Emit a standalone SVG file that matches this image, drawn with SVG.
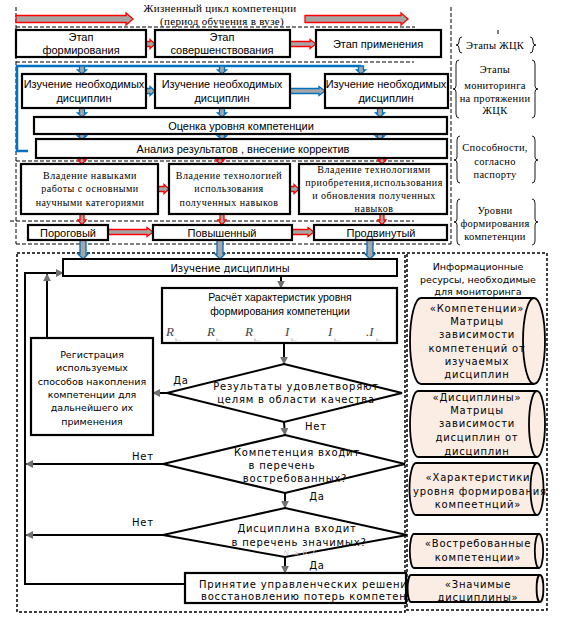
<svg xmlns="http://www.w3.org/2000/svg" width="562" height="621" viewBox="0 0 562 621">
<style>
.box{fill:#fff;stroke:#000;stroke-width:2.2}
.thin{fill:#fff;stroke:#000;stroke-width:2}
.dash{fill:none;stroke:#000;stroke-width:1;stroke-dasharray:4,2}
.dash2{fill:none;stroke:#000;stroke-width:1.5;stroke-dasharray:3,2}
.ra{fill:#a6a6a6;stroke:#f00;stroke-width:1.3}
.ba{fill:#a6a6a6;stroke:#0070c0;stroke-width:1.3}
.ln{fill:none;stroke:#000;stroke-width:2}
.brace{fill:none;stroke:#000;stroke-width:0.9}
.cyl{fill:#fbede4;stroke:#000;stroke-width:1.8}
.s11{font-family:"Liberation Sans",Arial,sans-serif;font-size:11px;text-anchor:middle}
.sf{font-family:"Liberation Serif","Times New Roman",serif;font-size:10px;letter-spacing:0.5px;text-anchor:middle}
.sr{font-family:"Liberation Serif","Times New Roman",serif;font-size:10.5px;letter-spacing:0.3px;text-anchor:middle}
.dv{font-family:"DejaVu Sans",sans-serif;font-size:9.5px;text-anchor:middle}
.dvs{font-family:"DejaVu Sans",sans-serif;font-size:10px;letter-spacing:0.8px;text-anchor:middle}
.dvl{font-family:"DejaVu Sans",sans-serif;font-size:10px;letter-spacing:0.8px}
.fm{font-family:"Liberation Serif",serif;font-size:13px;font-style:italic;fill:#444}
.sub{font-family:"Liberation Serif",serif;font-size:5px;fill:#999}
</style>
<defs>
<marker id="ah" viewBox="0 0 10 10" refX="9" refY="5" markerWidth="4" markerHeight="4" orient="auto" markerUnits="strokeWidth"><path d="M0,0 L10,5 L0,10 Z" fill="#707070"/></marker>
<clipPath id="clipP"><rect x="185" y="570" width="221" height="36"/></clipPath>
</defs>
<rect width="562" height="621" fill="#fff"/>

<g id="frames">
<path class="dash" d="M16,7 V244 M451,7 V244 M16,27 H415 M16,62 H414 M16,161 H414 M10,221 H414 M16,244 H451 M498,30 V36"/>
<rect class="dash2" x="17" y="253" width="388" height="359"/>
<rect class="dash2" x="407" y="253" width="140" height="357"/>
</g>

<g id="title">
<text class="sr" x="220" y="12" style="font-size:11px">Жизненный цикл компетенции</text>
<text class="sr" x="222" y="25" style="font-size:11px">(период обучения в вузе)</text>
</g>

<g id="connectors">
<path class="ra" d="M16,15.5 L126,15.5 L126,13 L133,19 L126,25 L126,22.5 L16,22.5 Z"/>
<path class="ra" d="M305,15.5 L401,15.5 L401,13 L408,19 L401,25 L401,22.5 L305,22.5 Z"/>
<path class="ra" d="M146,41.5 L150,41.5 L150,39.5 L155,44 L150,48.5 L150,46.5 L146,46.5 Z"/>
<path class="ra" d="M290,41.5 L310,41.5 L310,39.5 L316,44 L310,48.5 L310,46.5 L290,46.5 Z"/>
<polyline points="361,66 17,66 17,151 28,151" fill="none" stroke="#0070c0" stroke-width="2.5"/>
<path class="ba" d="M79.5,66 L84.5,66 L84.5,70 L86.5,70 L82,74 L77.5,70 L79.5,70 Z"/>
<path class="ba" d="M219.5,66 L224.5,66 L224.5,70 L226.5,70 L222,74 L217.5,70 L219.5,70 Z"/>
<path class="ba" d="M358.5,66 L363.5,66 L363.5,70 L365.5,70 L361,74 L356.5,70 L358.5,70 Z"/>
<path class="ba" d="M146,88.5 L150,88.5 L150,86.5 L155,91 L150,95.5 L150,93.5 L146,93.5 Z"/>
<path class="ba" d="M290,88.5 L319,88.5 L319,86.5 L325,91 L319,95.5 L319,93.5 L290,93.5 Z"/>
<path class="ba" d="M79.5,108 L84.5,108 L84.5,113 L86.5,113 L82,117 L77.5,113 L79.5,113 Z"/>
<path class="ba" d="M219.5,108 L224.5,108 L224.5,113 L226.5,113 L222,117 L217.5,113 L219.5,113 Z"/>
<path class="ba" d="M377.5,108 L382.5,108 L382.5,113 L384.5,113 L380,117 L375.5,113 L377.5,113 Z"/>
<path class="ba" d="M79.5,134 L84.5,134 L84.5,136 L86.5,136 L82,139.5 L77.5,136 L79.5,136 Z"/>
<path class="ba" d="M219.5,134 L224.5,134 L224.5,136 L226.5,136 L222,139.5 L217.5,136 L219.5,136 Z"/>
<path class="ba" d="M377.5,134 L382.5,134 L382.5,136 L384.5,136 L380,139.5 L375.5,136 L377.5,136 Z"/>
<path class="ra" d="M80,158 L84,158 L84,160 L86,160 L82,164 L78,160 L80,160 Z"/>
<path class="ra" d="M218,158 L222,158 L222,160 L224,160 L220,164 L216,160 L218,160 Z"/>
<path class="ra" d="M380,158 L384,158 L384,160 L386,160 L382,164 L378,160 L380,160 Z"/>
<path class="ra" d="M158,186.5 L164,186.5 L164,184.5 L169,189 L164,193.5 L164,191.5 L158,191.5 Z"/>
<path class="ra" d="M290,186.5 L294,186.5 L294,184.5 L299,189 L294,193.5 L294,191.5 L290,191.5 Z"/>
<path class="ra" d="M80,214 L84,214 L84,220 L86,220 L82,225 L78,220 L80,220 Z"/>
<path class="ra" d="M220,214 L224,214 L224,220 L226,220 L222,225 L218,220 L220,220 Z"/>
<path class="ra" d="M380,214 L384,214 L384,220 L386,220 L382,225 L378,220 L380,220 Z"/>
<path class="ra" d="M108,229.5 L147,229.5 L147,227.5 L153,232 L147,236.5 L147,234.5 L108,234.5 Z"/>
<path class="ra" d="M292,229.5 L308,229.5 L308,227.5 L314,232 L308,236.5 L308,234.5 L292,234.5 Z"/>
<path class="ba" d="M80,240 L86,240 L86,254 L88,254 L83,259 L78,254 L80,254 Z"/>
<path class="ba" d="M217,240 L223,240 L223,254 L225,254 L220,259 L215,254 L217,254 Z"/>
<path class="ba" d="M367,240 L373,240 L373,254 L375,254 L370,259 L365,254 L367,254 Z"/>
<line class="ln" x1="281" y1="276" x2="281" y2="288" marker-end="url(#ah)"/>
<line class="ln" x1="284" y1="343" x2="284" y2="364" marker-end="url(#ah)"/>
<line class="ln" x1="167" y1="393" x2="153" y2="393" marker-end="url(#ah)"/>
<line class="ln" x1="284" y1="422" x2="285" y2="435" marker-end="url(#ah)"/>
<line class="ln" x1="163" y1="464" x2="26" y2="464" marker-end="url(#ah)"/>
<line class="ln" x1="285" y1="493" x2="285" y2="508" marker-end="url(#ah)"/>
<line class="ln" x1="163" y1="535" x2="26" y2="535" marker-end="url(#ah)"/>
<line class="ln" x1="285" y1="557" x2="285" y2="573" marker-end="url(#ah)"/>
<polyline class="ln" points="185,584 25,584 25,273 63,273" marker-end="url(#ah)"/>
<line class="ln" x1="47" y1="338" x2="47" y2="274" marker-end="url(#ah)"/>
<text class="dvs" x="181" y="384">Да</text>
<text class="dvs" x="316" y="430">Нет</text>
<text class="dvs" x="143" y="460">Нет</text>
<text class="dvs" x="317" y="500">Да</text>
<text class="dvs" x="143" y="526">Нет</text>
<text class="dvs" x="317" y="569">Да</text>
</g>

<g id="stage1"><rect class="box" x="16" y="30" width="130" height="27"/><text class="s11" x="81" y="41">Этап</text><text class="s11" x="81" y="54">формирования</text></g>
<g id="stage2"><rect class="box" x="155" y="30" width="135" height="27"/><text class="s11" x="222" y="41">Этап</text><text class="s11" x="222" y="54">совершенствования</text></g>
<g id="stage3"><rect class="box" x="316" y="30" width="125" height="27"/><text class="s11" x="378" y="48">Этап применения</text></g>

<g id="study1"><rect class="box" x="22" y="74" width="124" height="34"/><text class="s11" x="84" y="88">Изучение необходимых</text><text class="s11" x="84" y="102">дисциплин</text></g>
<g id="study2"><rect class="box" x="155" y="74" width="135" height="34"/><text class="s11" x="222" y="88">Изучение необходимых</text><text class="s11" x="222" y="102">дисциплин</text></g>
<g id="study3"><rect class="box" x="325" y="74" width="123" height="34"/><text class="s11" x="386" y="88">Изучение необходимых</text><text class="s11" x="386" y="102">дисциплин</text></g>

<g id="assess"><rect class="box" x="34" y="117" width="413" height="17"/><text class="s11" x="241" y="129.5">Оценка уровня компетенции</text></g>
<g id="analysis"><rect class="box" x="36" y="139" width="411" height="19"/><text class="s11" x="243" y="152.5">Анализ результатов  , внесение корректив</text></g>

<g id="skill1"><rect class="box" x="21" y="164" width="137" height="50"/><text class="sf" x="90" y="179">Владение навыками</text><text class="sf" x="90" y="192">работы с основными</text><text class="sf" x="90" y="206">научными категориями</text></g>
<g id="skill2"><rect class="box" x="169" y="164" width="121" height="50"/><text class="sf" x="229" y="179">Владение технологией</text><text class="sf" x="229" y="192">использования</text><text class="sf" x="229" y="206">полученных навыков</text></g>
<g id="skill3"><rect class="box" x="299" y="164" width="148" height="50"/><text class="sf" x="374" y="173">Владение технологиями</text><text class="sf" x="374" y="186">приобретения,использования</text><text class="sf" x="374" y="199">и обновления полученных</text><text class="sf" x="374" y="212">навыков</text></g>

<g id="level1"><rect class="box" x="28" y="225" width="80" height="15"/><text class="s11" x="68" y="236.5">Пороговый</text></g>
<g id="level2"><rect class="box" x="153" y="225" width="139" height="15"/><text class="s11" x="222" y="236.5">Повышенный</text></g>
<g id="level3"><rect class="box" x="314" y="225" width="133" height="15"/><text class="s11" x="381" y="236.5">Продвинутый</text></g>

<g id="labels">
<path class="brace" d="M462,37 Q459,37 459,41 L459,42 Q459,45 456,45 Q459,45 459,48 L459,49 Q459,53 462,53"/>
<path class="brace" d="M530,37 Q533,37 533,41 L533,42 Q533,45 536,45 Q533,45 533,48 L533,49 Q533,53 530,53"/>
<text class="sr" x="495" y="49">Этапы ЖЦК</text>
<path class="brace" d="M459,60 Q456,60 456,64 L456,86 Q456,89 453,89 Q456,89 456,92 L456,114 Q456,118 459,118"/>
<path class="brace" d="M532,60 Q535,60 535,64 L535,86 Q535,89 538,89 Q535,89 535,92 L535,114 Q535,118 532,118"/>
<text class="sr" x="495" y="73">Этапы</text><text class="sr" x="495" y="89">мониторинга</text><text class="sr" x="495" y="102">на протяжении</text><text class="sr" x="495" y="114">ЖЦК</text>
<path class="brace" d="M460,136 Q457,136 457,140 L457,157 Q457,160 454,160 Q457,160 457,163 L457,179 Q457,183 460,183"/>
<path class="brace" d="M532,136 Q535,136 535,140 L535,157 Q535,160 538,160 Q535,160 535,163 L535,179 Q535,183 532,183"/>
<text class="sr" x="495" y="151">Способности,</text><text class="sr" x="495" y="165">согласно</text><text class="sr" x="495" y="178">паспорту</text>
<path class="brace" d="M460,199 Q457,199 457,203 L457,219 Q457,222 454,222 Q457,222 457,225 L457,241 Q457,245 460,245"/>
<path class="brace" d="M532,199 Q535,199 535,203 L535,219 Q535,222 538,222 Q535,222 535,225 L535,241 Q535,245 532,245"/>
<text class="sr" x="495" y="214">Уровни</text><text class="sr" x="495" y="227">формирования</text><text class="sr" x="495" y="240">компетенции</text>
</g>

<g id="study-discipline"><rect class="thin" x="63" y="259" width="334" height="17"/><text class="dv" x="230" y="271.5" style="font-size:10px">Изучение дисциплины</text></g>

<g id="calc">
<rect class="box" x="162" y="288" width="235" height="55"/>
<text class="s11" x="280" y="301" style="font-size:10.5px">Расчёт характеристик уровня</text>
<text class="s11" x="280" y="315" style="font-size:10.5px">формирования компетенции</text>
<text class="fm" x="166" y="336">R</text><text class="sub" x="175" y="341">k...</text>
<text class="fm" x="207" y="336">R</text><text class="sub" x="216" y="341">k...</text>
<text class="fm" x="245" y="336">R</text><text class="sub" x="254" y="341">k...</text>
<text class="fm" x="285" y="336">I</text><text class="sub" x="291" y="341">k...</text>
<text class="fm" x="328" y="336">I</text><text class="sub" x="334" y="341">k...</text>
<text class="fm" x="366" y="336">.I</text><text class="sub" x="376" y="341">k...</text>
</g>

<g id="decision1">
<polygon class="thin" points="284,364 402,393 284,422 167,393"/>
<text class="dvs" x="296" y="390">Результаты удовлетворяют</text>
<text class="dvs" x="296" y="403">целям в области качества</text>
</g>

<g id="register">
<rect class="box" x="31" y="338" width="122" height="97"/>
<text class="dv" x="92" y="358">Регистрация</text>
<text class="dv" x="92" y="371">используемых</text>
<text class="dv" x="92" y="385">способов накопления</text>
<text class="dv" x="92" y="398">компетенции для</text>
<text class="dv" x="92" y="411">дальнейшего их</text>
<text class="dv" x="92" y="425">применения</text>
</g>

<g id="decision2">
<polygon class="thin" points="285,435 405,464 285,493 163,464"/>
<text class="dvs" x="297" y="456">Компетенция входит</text>
<text class="dvs" x="282" y="469">в перечень</text>
<text class="dvs" x="295" y="482">востребованных?</text>
</g>

<g id="decision3">
<polygon class="thin" points="285,508 407,535 285,557 163,535"/>
<text class="dvs" x="297" y="532">Дисциплина входит</text>
<text class="dvs" x="299" y="546">в перечень значимых?</text>
<text class="dvs" x="300" y="555" style="fill:#ccc;font-size:7px">N ≥ 0,7</text>
</g>

<g id="decision-box">
<rect class="box" x="185" y="573" width="221" height="30"/>
<text class="dvl" x="199" y="588">Принятие управленческих решений</text>
<text class="dvl" x="201" y="600" clip-path="url(#clipP)">восстановлению потерь компетенций</text>
</g>

<g id="resources">
<text class="dv" x="478" y="270">Информационные</text>
<text class="dv" x="478" y="283">ресурсы, необходимые</text>
<text class="dv" x="478" y="295">для мониторинга</text>
</g>

<g id="res1">
<path class="cyl" d="M421,298 L534,298 A11,43 0 0 1 534,384 L421,384 A11,43 0 0 1 421,298 Z"/>
<path class="cyl" d="M534,298 A11,43 0 0 0 534,384" style="fill:none"/>
<text class="dvs" x="477" y="312">«Компетенции»</text><text class="dvs" x="477" y="325">Матрицы</text><text class="dvs" x="477" y="338">зависимости</text><text class="dvs" x="477" y="352">компетенций от</text><text class="dvs" x="477" y="365">изучаемых</text><text class="dvs" x="477" y="378">дисциплин</text>
</g>
<g id="res2">
<path class="cyl" d="M418,391 L537,391 A8,33 0 0 1 537,457 L418,457 A8,33 0 0 1 418,391 Z"/>
<path class="cyl" d="M537,391 A8,33 0 0 0 537,457" style="fill:none"/>
<text class="dvs" x="477" y="401">«Дисциплины»</text><text class="dvs" x="477" y="414">Матрицы</text><text class="dvs" x="477" y="427">зависимости</text><text class="dvs" x="477" y="441">дисциплин от</text><text class="dvs" x="477" y="455">дисциплин</text>
</g>
<g id="res3">
<path class="cyl" d="M416,463 L537,463 A6.5,26 0 0 1 537,515 L416,515 A6.5,26 0 0 1 416,463 Z"/>
<path class="cyl" d="M537,463 A6.5,26 0 0 0 537,515" style="fill:none"/>
<text class="dvs" x="478" y="481">«Характеристики</text><text class="dvs" x="480" y="495">уровня формирования</text><text class="dvs" x="478" y="508">компеетнций»</text>
</g>
<g id="res4">
<path class="cyl" d="M414,534 L539,534 A4.2,17 0 0 1 539,568 L414,568 A4.2,17 0 0 1 414,534 Z"/>
<path class="cyl" d="M539,534 A4.2,17 0 0 0 539,568" style="fill:none"/>
<text class="dvs" x="478" y="547">«Востребованные</text><text class="dvs" x="478" y="561">компетенции»</text>
</g>
<g id="res5">
<path class="cyl" d="M411,575 L540,575 A3.4,13.5 0 0 1 540,602 L411,602 A3.4,13.5 0 0 1 411,575 Z"/>
<path class="cyl" d="M540,575 A3.4,13.5 0 0 0 540,602" style="fill:none"/>
<text class="dvs" x="478" y="588">«Значимые</text><text class="dvs" x="478" y="601">дисциплины»</text>
</g>
</svg>
